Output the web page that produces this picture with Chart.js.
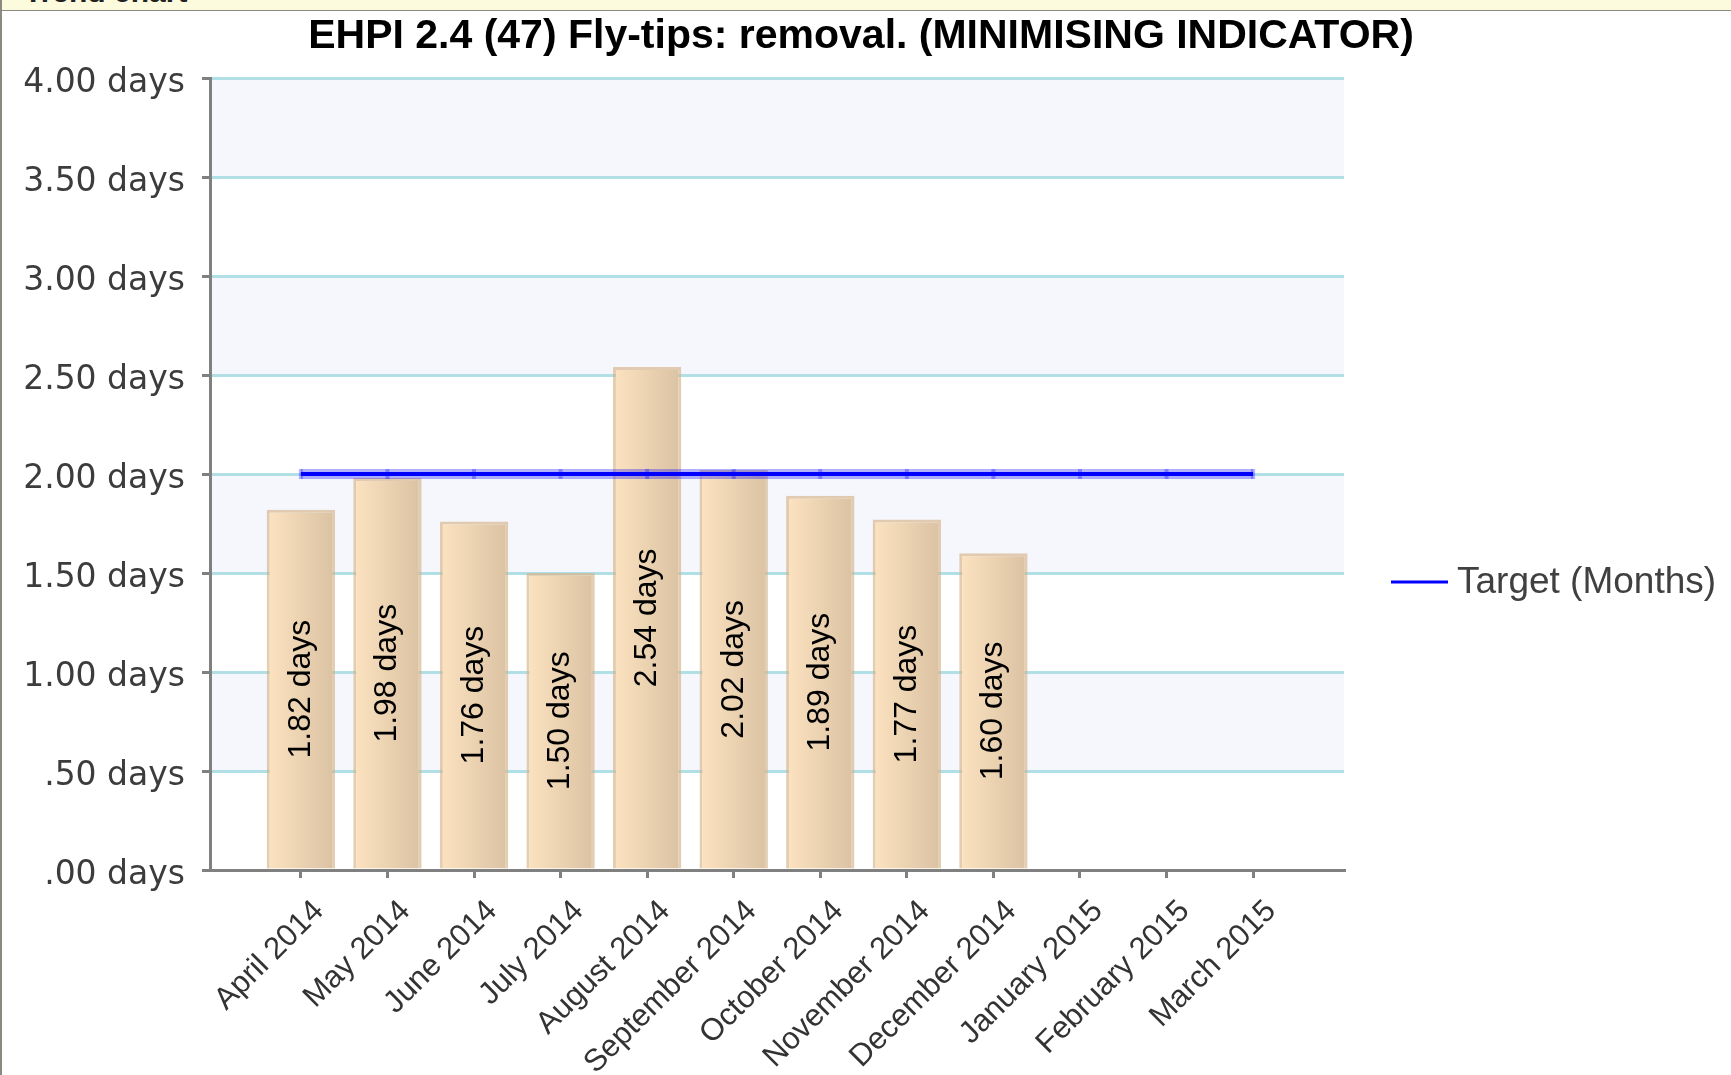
<!DOCTYPE html>
<html>
<head>
<meta charset="utf-8">
<script src="https://cdn.jsdelivr.net/npm/chart.js@4"></script>
<style>
  html, body { margin: 0; padding: 0; background: #fff; overflow: hidden; }
  #wrap { position: relative; width: 1731px; height: 1075px; }
  #trendChart { position: absolute; left: 0; top: 0; }
  #header {
    position: absolute; left: 0; top: 0; width: 1731px; height: 10px;
    background: #fdfbdd; border-bottom: 1px solid #8a8a80; overflow: hidden;
  }
  #header span {
    position: absolute; left: 24px; top: -25px;
    font: bold 30px "Liberation Sans", sans-serif; color: #222;
  }
  #leftEdge { position: absolute; left: 0; top: 0; width: 2px; height: 1075px; background: #8a8a80; }
</style>
</head>
<body>
<div id="wrap">
  <canvas id="trendChart" width="1731" height="1075"></canvas>
  <div id="header"><span>Trend chart</span></div>
  <div id="leftEdge"></div>
</div>
<script>
// months on the x axis
const months = ['April 2014', 'May 2014', 'June 2014', 'July 2014', 'August 2014', 'September 2014',
  'October 2014', 'November 2014', 'December 2014', 'January 2015', 'February 2015', 'March 2015'];
// actual values (days), only up to December
const days = [1.82, 1.98, 1.76, 1.50, 2.54, 2.02, 1.89, 1.77, 1.60];
// target line
const target = [2, 2, 2, 2, 2, 2, 2, 2, 2, 2, 2, 2];
// y tick values
const yTicks = [0, 0.5, 1, 1.5, 2, 2.5, 3, 3.5, 4];

const titleText = 'EHPI 2.4 (47) Fly-tips: removal. (MINIMISING INDICATOR)';

const fmt = v => v.toFixed(2).replace(/^0/, '') + ' days';

// alternating plot bands behind the grid
const bands = {
  id: 'bands',
  beforeDraw(chart) {
    const {ctx, chartArea: a, scales: {y}} = chart;
    ctx.save();
    for (let i = 0; i < yTicks.length - 1; i++) {
      if ((yTicks.length - 2 - i) % 2 !== 0) continue;
      const top = y.getPixelForValue(yTicks[i + 1]);
      const bot = y.getPixelForValue(yTicks[i]);
      ctx.fillStyle = '#f6f7fd';
      ctx.fillRect(a.left, top, a.right - a.left, bot - top);
    }
    ctx.restore();
  }
};

// value written inside each bar, rotated
const barLabels = {
  id: 'barLabels',
  afterDatasetsDraw(chart) {
    const {ctx} = chart;
    const meta = chart.getDatasetMeta(0);
    ctx.save();
    ctx.font = '32px "Liberation Sans", sans-serif';
    ctx.fillStyle = '#000';
    ctx.textAlign = 'center';
    ctx.textBaseline = 'middle';
    meta.data.forEach((bar, i) => {
      const cy = (bar.y + bar.base) / 2;
      ctx.save();
      ctx.translate(bar.x, cy);
      ctx.rotate(-Math.PI / 2);
      ctx.fillText(days[i].toFixed(2) + ' days', 0, 0);
      ctx.restore();
    });
    ctx.restore();
  }
};

// title (centred over the whole picture) and legend on the right
const decor = {
  id: 'decor',
  afterDraw(chart) {
    const {ctx} = chart;
    ctx.save();
    ctx.font = 'bold 41px "Liberation Sans", sans-serif';
    ctx.fillStyle = '#000';
    ctx.textAlign = 'center';
    ctx.textBaseline = 'middle';
    ctx.fillText(titleText, 861, 37);

    ctx.strokeStyle = '#0000ff';
    ctx.lineWidth = 3;
    ctx.beginPath();
    ctx.moveTo(1391, 582);
    ctx.lineTo(1448, 582);
    ctx.stroke();
    ctx.font = '37px "Liberation Sans", sans-serif';
    ctx.fillStyle = '#404040';
    ctx.textAlign = 'left';
    ctx.fillText('Target (Months)', 1457, 583);
    ctx.restore();
  }
};

const barFill = c => {
  const chart = c.chart, x = chart.scales.x;
  if (!x || !chart.chartArea || c.type !== 'data') return '#f0d6b4';
  const cx = x.getPixelForValue(c.dataIndex);
  const half = (x.getPixelForValue(1) - x.getPixelForValue(0)) * 0.4;
  const g = chart.ctx.createLinearGradient(cx - half, 0, cx + half, 0);
  g.addColorStop(0, '#fde3c0');
  g.addColorStop(1, '#d9c1a2');
  return g;
};

let trendChart = new Chart(document.getElementById('trendChart'), {
  type: 'bar',
  data: {
    datasets: [{
      label: 'Actual',
      data: days.map((v, i) => ({x: i, y: v})),
      backgroundColor: barFill,
      borderColor: 'rgba(214,180,135,0.65)',
      borderWidth: 3,
      barPercentage: 0.79,
      categoryPercentage: 1,
      order: 3
    }, {
      type: 'line',
      label: 'halo',
      data: target.map((v, i) => ({x: i, y: v})),
      borderColor: 'rgba(0,0,255,0.3)',
      borderWidth: 10,
      pointRadius: 0,
      order: 2
    }, {
      type: 'line',
      label: 'Target (Months)',
      data: target.map((v, i) => ({x: i, y: v})),
      borderColor: '#0000ff',
      borderWidth: 4,
      pointStyle: 'line',
      rotation: 90,
      pointRadius: 5,
      pointBorderWidth: 4,
      pointBorderColor: 'rgba(0,0,255,0.3)',
      order: 1
    }]
  },
  options: {
    responsive: false,
    animation: false,
    devicePixelRatio: 1,
    layout: { padding: { left: 22, right: 387, top: 78, bottom: 0 } },
    plugins: {
      legend: { display: false },
      tooltip: { enabled: false },
      title: { display: false }
    },
    scales: {
      x: {
        type: 'linear',
        offset: false,
        min: -1.05,
        max: 12.05,
        afterBuildTicks: s => { s.ticks = months.map((m, i) => ({value: i})); },
        afterFit: s => { s.height = 205; },
        ticks: {
          callback: v => months[v],
          autoSkip: false,
          minRotation: 45,
          maxRotation: 45,
          padding: 15,
          labelOffset: 18,
          color: '#333',
          font: { family: 'Liberation Sans', size: 31 }
        },
        grid: { offset: false, drawOnChartArea: false, tickColor: '#808080', tickLength: 8, lineWidth: 3 },
        border: { color: '#808080', width: 3 }
      },
      y: {
        min: 0,
        max: 4,
        afterBuildTicks: s => { s.ticks = yTicks.map(v => ({value: v})); },
        afterFit: s => { s.width = 188; },
        ticks: {
          callback: v => fmt(v),
          padding: 17,
          labelOffset: 5,
          color: '#3c3c3c',
          font: { family: 'DejaVu Sans', size: 33 }
        },
        grid: { color: '#b0e0e6', lineWidth: 3, tickColor: '#808080', tickLength: 8 },
        border: { color: '#808080', width: 3 }
      }
    }
  },
  plugins: [bands, barLabels, decor]
});
</script>
</body>
</html>
